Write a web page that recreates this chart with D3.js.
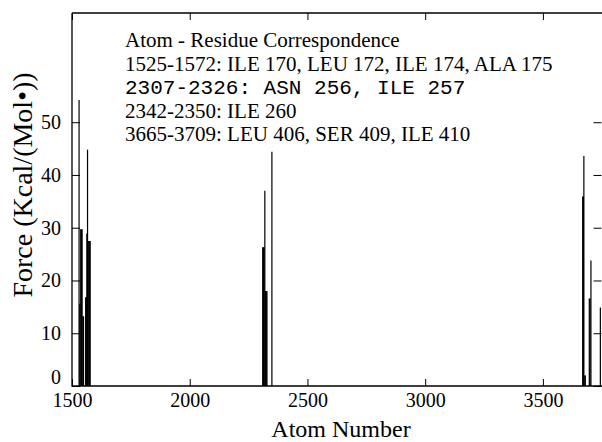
<!DOCTYPE html>
<html><head><meta charset="utf-8">
<script src="https://cdn.jsdelivr.net/npm/d3@7"></script>
<style>
html,body{margin:0;padding:0;background:#fff;}
svg{display:block;}
text{font-family:"Liberation Serif","Times New Roman",serif;fill:#000;}
</style></head>
<body>
<svg id="chart" width="602" height="442"></svg>
<script>
// Data: atom number and force on that atom
const atoms  = [1530,1533,1537,1540,1543,1546,1549,1558,1561,1563,1566,1569,1572,1575,1577,
                2310,2313,2316,2319,2322,2325,2328,2349,
                3669,3672,3674,3678,3680,3697,3700,3704,3744];
const forces = [54.2,15.6,29.7,29.7,29.7,13.2,13.2,16.8,16.8,28.9,44.8,27.5,27.5,27.5,27.5,
                26.3,26.3,26.3,37.0,18.0,18.0,18.0,44.4,
                35.9,35.9,43.6,2.0,2.0,16.6,16.6,23.8,14.9];
const xTicks = [1500,2000,2500,3000,3500];
const yTicks = [0,10,20,30,40,50];
const xDomain = [1500,3751];
const yDomain = [0,70.7];
const legendLines = [
  {text:"Atom - Residue Correspondence", mono:false},
  {text:"1525-1572: ILE 170, LEU 172, ILE 174, ALA 175", mono:false},
  {text:"2307-2326: ASN 256, ILE 257", mono:true},
  {text:"2342-2350: ILE 260", mono:false},
  {text:"3665-3709: LEU 406, SER 409, ILE 410", mono:false}
];
const xTitle = "Atom Number";
const yTitle = "Force (Kcal/(Mol\u2022))";

const L=72, R=602, T=13, B=386;
const svg = d3.select("#chart");
const x = d3.scaleLinear().domain(xDomain).range([L,R]);
const y = d3.scaleLinear().domain(yDomain).range([B,T]);

// bars as spikes
svg.append("g").selectAll("line").data(atoms.map((a,i)=>({a,f:forces[i]}))).join("line")
  .attr("x1",d=>x(d.a)).attr("x2",d=>x(d.a))
  .attr("y1",y(0)).attr("y2",d=>y(d.f))
  .attr("stroke","#000").attr("stroke-width",1.2);

// axes
const gB = svg.append("g").attr("transform",`translate(0,${B})`)
  .call(d3.axisBottom(x).tickValues(xTicks).tickSizeInner(-7).tickSizeOuter(0).tickPadding(7).tickFormat(d3.format("d")));
const gT = svg.append("g").attr("transform",`translate(0,${T})`)
  .call(d3.axisTop(x).tickValues(xTicks).tickSizeInner(-7).tickSizeOuter(0).tickFormat(""));
const gL = svg.append("g").attr("transform",`translate(${L},0)`)
  .call(d3.axisLeft(y).tickValues(yTicks).tickSizeInner(-8).tickSizeOuter(0).tickPadding(11));
const gR = svg.append("g").attr("transform",`translate(${R-0.5},0)`)
  .call(d3.axisRight(y).tickValues(yTicks).tickSizeInner(-8).tickSizeOuter(0).tickFormat(""));
[gB,gT,gL,gR].forEach(g=>{
  g.select(".domain").remove();
  g.selectAll(".tick line").attr("stroke","#000").attr("stroke-width",1);
  g.selectAll("text").style("font-family",'"Liberation Serif","Times New Roman",serif').style("font-size","20px").attr("fill","#000");
});
// lift the "0" label so it sits just above "1500", as in the reference
gL.selectAll(".tick").filter(d=>d===0).select("text").attr("dy","-0.12em");

// frame
svg.append("path")
  .attr("d",`M${L},${T}H${R}M${L},${T}V${B}H${R}`)
  .attr("fill","none").attr("stroke","#000").attr("stroke-width",1.3);

// legend text
svg.append("g").selectAll("text").data(legendLines).join("text")
  .attr("x",125).attr("y",(d,i)=>47+i*23.5)
  .style("font-family",d=>d.mono?'"Liberation Mono","Courier New",monospace':'"Liberation Serif","Times New Roman",serif')
  .style("font-size","21px")
  .attr("fill",d=>d.mono?"#333":"#000")
  .text(d=>d.text);

// axis titles
svg.append("text").attr("x",(L+R)/2+4).attr("y",437).attr("text-anchor","middle")
  .style("font-size","24px").text(xTitle);
svg.append("text").attr("transform","translate(32,185) rotate(-90)").attr("text-anchor","middle")
  .style("font-size","28px").text(yTitle);
</script>
</body></html>
